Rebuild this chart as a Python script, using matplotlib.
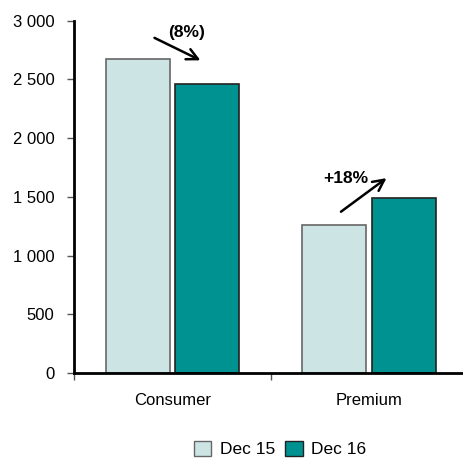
import numpy as np
import matplotlib
matplotlib.use("Agg")
from matplotlib import pyplot as plt
from matplotlib.ticker import FuncFormatter
from matplotlib.patches import Patch

categories = ["Consumer", "Premium"]
series_names = ["Dec 15", "Dec 16"]
dec15 = [2670, 1260]
dec16 = [2460, 1490]
changes = ["(8%)", "+18%"]

plt.rcParams['font.family'] = ['Liberation Sans', 'DejaVu Sans']

fig = plt.figure(figsize=(4.63, 4.59), dpi=100)
ax = fig.add_axes([0.16, 0.187, 0.85, 0.768])

x = np.arange(len(categories))
w = 0.325
gap = 0.03
ax.bar(x - (w + gap) / 2, dec15, width=w, color="#cde4e4", edgecolor="#666666", linewidth=1.2)
ax.bar(x + (w + gap) / 2, dec16, width=w, color="#009191", edgecolor="#222222", linewidth=1.2)

ax.set_xlim(-0.5, 1.5)
ax.set_ylim(0, 3000)
ax.set_yticks(range(0, 3001, 500))
ax.yaxis.set_major_formatter(FuncFormatter(lambda v, p: f"{int(v):,}".replace(",", " ")))

ax.set_xticks([-0.5, 0.5, 1.5])
ax.set_xticklabels([])
ax.set_xticks(x, minor=True)
ax.set_xticklabels(categories, minor=True)
ax.tick_params(axis="x", which="minor", length=0, pad=14, labelsize=12)
ax.tick_params(axis="x", which="major", length=5, width=1, color="#555555")
ax.tick_params(axis="y", length=5, width=1, color="#555555", labelsize=12, pad=9)

for s in ["top", "right"]:
    ax.spines[s].set_visible(False)
for s in ["left", "bottom"]:
    ax.spines[s].set_linewidth(2)
    ax.spines[s].set_color("black")

# growth arrows
ax.annotate("", xy=(0.155, 2652), xytext=(-0.104, 2864),
            arrowprops=dict(arrowstyle="->", lw=1.8, color="black", mutation_scale=20))
ax.text(0.07, 2898, changes[0], ha="center", va="center", fontsize=12.5, fontweight="semibold")
ax.annotate("", xy=(1.099, 1674), xytext=(0.845, 1360),
            arrowprops=dict(arrowstyle="->", lw=1.8, color="black", mutation_scale=20))
ax.text(0.88, 1657, changes[1], ha="center", va="center", fontsize=12.5, fontweight="semibold")

handles = [Patch(facecolor="#cde4e4", edgecolor="#666666", label=series_names[0]),
           Patch(facecolor="#009191", edgecolor="#222222", label=series_names[1])]
fig.legend(handles=handles, loc="center", bbox_to_anchor=(0.605, 0.022), ncol=2, frameon=False,
           fontsize=12.5, handlelength=1.0, handleheight=1.0, handletextpad=0.5, columnspacing=0.6)

plt.savefig("out.png", dpi=100)
